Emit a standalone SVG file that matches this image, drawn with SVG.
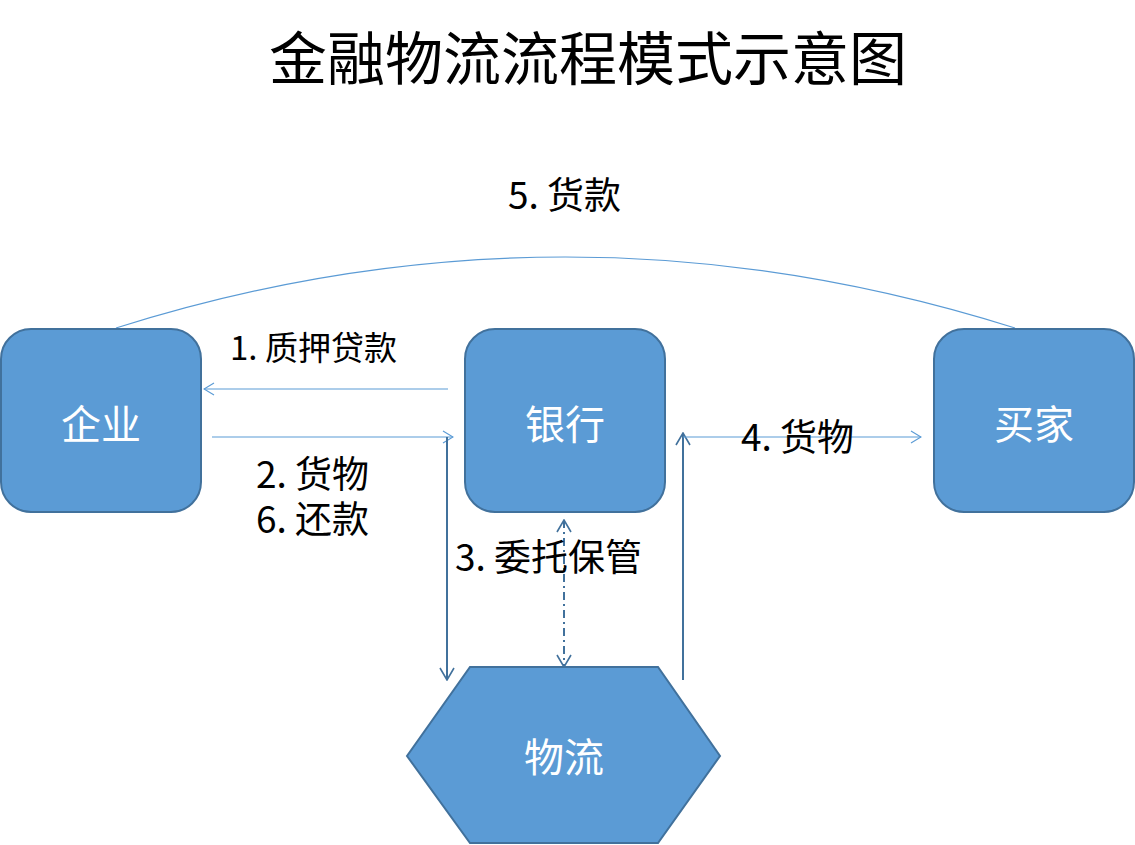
<svg xmlns="http://www.w3.org/2000/svg" width="1135" height="845" viewBox="0 0 1135 845">
<style>
.node{fill:#5B9BD5;stroke:#41719C;stroke-width:2}
.nt{font-family:"Noto Sans CJK SC","Noto Sans",sans-serif;font-size:40px;fill:#FFFFFF;text-anchor:middle}
.lb{font-family:"Noto Sans CJK SC","Noto Sans",sans-serif;font-size:37px;fill:#000000}
.lb1{font-family:"Noto Sans CJK SC","Noto Sans",sans-serif;font-size:33px;fill:#000000}
.title{font-family:"Noto Sans CJK SC","Noto Sans",sans-serif;font-size:58px;fill:#000000;text-anchor:middle}
.thin{stroke:#5B9BD5;stroke-width:1.2;fill:none}
.thick{stroke:#41719C;stroke-width:2;fill:none}
</style>
<defs>
<marker id="aL" viewBox="0 0 12 14" refX="11" refY="7" markerWidth="12" markerHeight="14" markerUnits="userSpaceOnUse" orient="auto-start-reverse">
<path d="M1,1 L11,7 L1,13" fill="none" stroke="#5B9BD5" stroke-width="1.2"/>
</marker>
<marker id="aD" viewBox="0 0 14 16" refX="13" refY="8" markerWidth="14" markerHeight="16" markerUnits="userSpaceOnUse" orient="auto-start-reverse">
<path d="M1,1 L13,8 L1,15" fill="none" stroke="#41719C" stroke-width="1.6"/>
</marker>
</defs>
<rect width="1135" height="845" fill="#FFFFFF"/>
<text class="title" x="588" y="80">金融物流流程模式示意图</text>
<g id="connectors">
<path class="thin" d="M116,328 Q565,186 1015,328"/>
<line class="thin" x1="448" y1="389" x2="204" y2="389" marker-end="url(#aL)"/>
<line class="thin" x1="212" y1="437" x2="453" y2="437" marker-end="url(#aL)"/>
<line class="thick" x1="447" y1="437" x2="447" y2="680" marker-end="url(#aD)"/>
<line class="thick" x1="683" y1="680" x2="683" y2="433" marker-end="url(#aD)"/>
<line class="thin" x1="683" y1="437" x2="921" y2="437" marker-end="url(#aL)"/>
<line class="thick" x1="564" y1="520" x2="564" y2="667" stroke-dasharray="8,4,2,4" marker-start="url(#aD)" marker-end="url(#aD)"/>
</g>
<g id="labels">
<text class="lb" x="508" y="209">5. 货款</text>
<text class="lb1" x="230" y="360">1. 质押贷款</text>
<text class="lb" x="256" y="488">2. 货物</text>
<text class="lb" x="256" y="533">6. 还款</text>
<text class="lb" x="455" y="571">3. 委托保管</text>
<text class="lb" x="741" y="451">4. 货物</text>
</g>
<g id="node-qiye">
<rect class="node" x="1" y="329" width="200" height="183" rx="30" ry="30"/>
<text class="nt" x="101" y="439">企业</text>
</g>
<g id="node-yinhang">
<rect class="node" x="465" y="329" width="200" height="183" rx="30" ry="30"/>
<text class="nt" x="565" y="439">银行</text>
</g>
<g id="node-maijia">
<rect class="node" x="934" y="329" width="200" height="183" rx="30" ry="30"/>
<text class="nt" x="1034" y="439">买家</text>
</g>
<g id="node-wuliu">
<polygon class="node" points="470,667 658,667 720,756 658,843 470,843 407,756"/>
<text class="nt" x="564" y="772">物流</text>
</g>
</svg>
